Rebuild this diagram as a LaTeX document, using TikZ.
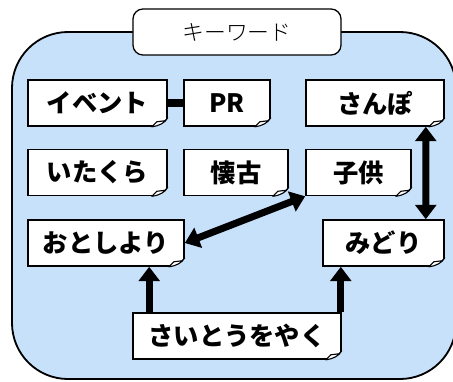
\documentclass[tikz,border=0pt]{standalone}
\usepackage{fontspec}
\newfontfamily\jp{Noto Sans CJK JP Black}
\newfontfamily\jpthin{Noto Sans CJK JP Light}
\usepackage{tikz}
\usetikzlibrary{arrows.meta,positioning}
\definecolor{panel}{RGB}{200,225,250}

\begin{document}
\begin{tikzpicture}
[x=0.025cm,y=-0.025cm,
 card/.style={rectangle,draw=black,fill=white,line width=1.1pt,minimum height=1.15cm,inner sep=0pt,font=\jp\fontsize{18}{20}\selectfont},
 link/.style={line width=5pt},
 dbl/.style={line width=5pt,{Triangle[width=0.52cm,length=0.36cm]}-{Triangle[width=0.52cm,length=0.36cm]}},
 up/.style={line width=5pt,-{Triangle[width=0.52cm,length=0.36cm]}}]

\useasboundingbox (0,0) rectangle (453,381);
\draw[fill=panel,line width=1.3pt,rounded corners=1.4cm] (12,32) rectangle (456,379);
\node[draw=black,fill=white,line width=0.9pt,rounded corners=0.25cm,minimum width=5.2cm,minimum height=1.15cm,font=\jpthin\fontsize{15.5}{18}\selectfont] (title) at (237,32) {キーワード};

\node[card,minimum width=3.475cm] (evt) at (97.5,103) {イベント};
\node[card,minimum width=2.15cm] (pr) at (227,103) {PR};
\node[card,minimum width=3.45cm] (sanpo) at (375,103) {さんぽ};
\node[card,minimum width=3.475cm] (itakura) at (97.5,172.5) {いたくら};
\node[card,minimum width=2.6cm] (kaiko) at (236,172.5) {懐古};
\node[card,minimum width=2.625cm] (kodomo) at (358.5,172.5) {子供};
\node[card,minimum width=3.9cm] (otoshi) at (106,243) {おとしより};
\node[card,minimum width=3.025cm] (midori) at (383.5,243) {みどり};
\node[card,minimum width=5.2cm] (saito) at (237,336) {さいとうをやく};

% curled corners
\foreach \n in {evt,pr,sanpo,itakura,kaiko,kodomo,otoshi,midori,saito}{
  \begin{scope}[shift={(\n.south east)}]
    \fill[panel] (-16,1.2) -- (1.2,1.2) -- (1.2,-9) -- cycle;
    \draw[line width=0.8pt,fill=white,line join=round] (-16,0) .. controls (-8,-1) and (-3,-4) .. (0,-9) -- (-3,-6) -- (-11,-5) -- cycle;
  \end{scope}
}

\draw[link] (evt) -- (pr);
\draw[dbl] ([xshift=-0.475cm]sanpo.south east) -- ([xshift=-0.475cm]midori.north east);
\draw[dbl] (otoshi.east) -- (kodomo.south west);
\draw[up] ([xshift=0.425cm]saito.north west) -- ([xshift=0.425cm]saito.north west |- otoshi.south);
\draw[up] ([xshift=-0.025cm]saito.north east) -- ([xshift=-0.025cm]saito.north east |- midori.south);
\end{tikzpicture}
\end{document}
